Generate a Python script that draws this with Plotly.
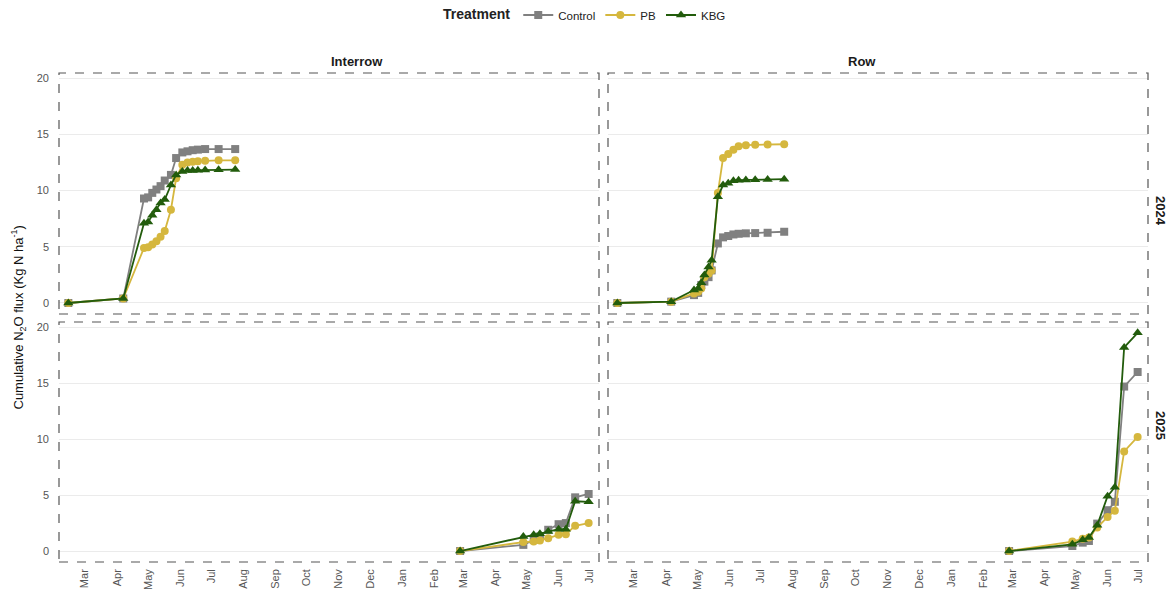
import plotly.graph_objects as go
from plotly.subplots import make_subplots

# ---------------- data ----------------
treatments = ["Control", "PB", "KBG"]

dates_2024_interrow = ["2024-02-14", "2024-04-07", "2024-04-27", "2024-05-01", "2024-05-05", "2024-05-09",
                       "2024-05-13", "2024-05-17", "2024-05-23", "2024-05-28", "2024-06-03", "2024-06-08",
                       "2024-06-13", "2024-06-18", "2024-06-25", "2024-07-08", "2024-07-24"]
interrow_2024_control = [0, 0.4, 9.3, 9.4, 9.8, 10.1, 10.4, 10.9, 11.4, 12.9, 13.4, 13.5, 13.6, 13.65, 13.7, 13.7, 13.7]
interrow_2024_pb = [0, 0.4, 4.9, 4.95, 5.2, 5.5, 5.9, 6.4, 8.3, 11.1, 12.3, 12.5, 12.56, 12.62, 12.65, 12.7, 12.7]
interrow_2024_kbg = [0, 0.4, 7.1, 7.2, 7.8, 8.3, 8.9, 9.2, 10.5, 11.4, 11.7, 11.8, 11.8, 11.82, 11.83, 11.85, 11.87]

dates_2024_row = ["2024-02-14", "2024-04-06", "2024-04-28", "2024-05-02", "2024-05-05", "2024-05-08",
                  "2024-05-12", "2024-05-15", "2024-05-21", "2024-05-26", "2024-05-31", "2024-06-05",
                  "2024-06-10", "2024-06-17", "2024-06-26", "2024-07-08", "2024-07-24"]
row_2024_control = [0, 0.12, 0.7, 0.9, 1.6, 1.9, 2.3, 2.9, 5.3, 5.84, 5.96, 6.1, 6.16, 6.2, 6.22, 6.25, 6.34]
row_2024_pb = [0, 0.12, 0.85, 1.0, 1.3, 2.3, 2.6, 2.9, 9.8, 12.9, 13.25, 13.65, 13.95, 14.05, 14.08, 14.1, 14.13]
row_2024_kbg = [0, 0.12, 1.15, 1.3, 1.8, 2.5, 3.2, 3.8, 9.45, 10.5, 10.65, 10.87, 10.93, 10.94, 10.96, 10.98, 11.02]

dates_2025 = ["2025-02-26", "2025-04-28", "2025-05-08", "2025-05-14", "2025-05-22", "2025-06-01",
              "2025-06-08", "2025-06-17", "2025-06-30"]
interrow_2025_control = [0, 0.55, 1.0, 1.3, 1.9, 2.4, 2.5, 4.8, 5.1]
interrow_2025_pb = [0, 0.8, 0.85, 0.95, 1.15, 1.45, 1.5, 2.25, 2.5]
interrow_2025_kbg = [0, 1.3, 1.45, 1.55, 1.75, 1.95, 1.95, 4.45, 4.4]
row_2025_control = [0, 0.45, 0.75, 0.9, 2.45, 3.65, 4.4, 14.7, 16.0]
row_2025_pb = [0, 0.85, 1.1, 1.2, 2.1, 3.05, 3.6, 8.9, 10.2]
row_2025_kbg = [0, 0.6, 1.0, 1.2, 2.3, 4.9, 5.7, 18.2, 19.5]

col_labels = ["Interrow", "Row"]
row_labels = ["2024", "2025"]
y_ticks = [0, 5, 10, 15, 20]

# ---------------- styles ----------------
colors = {"Control": "#808080", "PB": "#D5B73E", "KBG": "#225C0C"}
symbols = {"Control": "square", "PB": "circle", "KBG": "triangle-up"}

panels = [
    (1, 1, dates_2024_interrow, {"Control": interrow_2024_control, "PB": interrow_2024_pb, "KBG": interrow_2024_kbg}),
    (1, 2, dates_2024_row, {"Control": row_2024_control, "PB": row_2024_pb, "KBG": row_2024_kbg}),
    (2, 1, dates_2025, {"Control": interrow_2025_control, "PB": interrow_2025_pb, "KBG": interrow_2025_kbg}),
    (2, 2, dates_2025, {"Control": row_2025_control, "PB": row_2025_pb, "KBG": row_2025_kbg}),
]

fig = make_subplots(rows=2, cols=2)

for (r, c, dts, series) in panels:
    for t in treatments:
        fig.add_trace(go.Scatter(
            x=dts, y=series[t], mode="lines+markers", name=t,
            legendgroup=t, showlegend=(r == 1 and c == 1),
            line=dict(color=colors[t], width=1.8),
            marker=dict(color=colors[t], symbol=symbols[t], size=8 if t != "KBG" else 9),
        ), row=r, col=c)

W, H = 1172, 596
ml, mr, mt, mb = 59, 24, 73, 34
pw = W - ml - mr
ph = H - mt - mb
xl = [0, 540 / pw]
xr = [549 / pw, 1]
yt = [(562 - 314) / ph, 1]
yb = [0, (562 - 322) / ph]

xrange = ["2024-02-05", "2025-07-10"]
yrange = [-0.98, 20.47]

axis_font = dict(family="Liberation Sans, Arial, sans-serif", size=11, color="#555555")

domains = {1: (xl, yt), 2: (xr, yt), 3: (xl, yb), 4: (xr, yb)}
for i in range(1, 5):
    xd, yd = domains[i]
    xa = "xaxis" if i == 1 else f"xaxis{i}"
    ya = "yaxis" if i == 1 else f"yaxis{i}"
    fig.layout[xa].update(
        domain=xd, type="date", range=xrange, showgrid=False, zeroline=False,
        showline=False, tick0="2024-03-01", dtick="M1", tickformat="%b",
        tickangle=-90, showticklabels=(i >= 3), tickfont=axis_font, ticks="",
        automargin=False, ticklabelstandoff=4,
    )
    fig.layout[ya].update(
        domain=yd, range=yrange, tickvals=y_ticks, showgrid=True, gridcolor="#EBEBEB",
        gridwidth=1.3, zeroline=False, showline=False, tickfont=axis_font,
        showticklabels=(i in (1, 3)), ticks="", automargin=False, ticklabelstandoff=9,
    )
    # dashed panel border
    xref = "x domain" if i == 1 else f"x{i} domain"
    yref = "y domain" if i == 1 else f"y{i} domain"
    fig.add_shape(type="rect", xref=xref, yref=yref, x0=0, x1=1, y0=0, y1=1,
                  line=dict(color="#555555", width=1.2, dash="dash"), fillcolor="rgba(0,0,0,0)",
                  layer="above")

# strip labels
strip_font = dict(family="Liberation Sans, Arial, sans-serif", size=13, color="#1a1a1a")
for lab, xd in zip(col_labels, [xl, xr]):
    fig.add_annotation(text=f"<b>{lab}</b>", x=(xd[0] + xd[1]) / 2, y=yt[1], xref="paper", yref="paper",
                       yanchor="bottom", yshift=2, showarrow=False, font=strip_font)
for lab, yd in zip(row_labels, [yt, yb]):
    fig.add_annotation(text=f"<b>{lab}</b>", x=1, y=(yd[0] + yd[1]) / 2, xref="paper", yref="paper",
                       xanchor="left", xshift=3, textangle=90, showarrow=False, font=strip_font)

# y axis title
fig.add_annotation(text="Cumulative N<sub>2</sub>O flux (Kg N ha<sup>-1</sup>)", x=0, y=0.5,
                   xref="paper", yref="paper", xanchor="center", xshift=-41, textangle=-90,
                   showarrow=False,
                   font=dict(family="Liberation Sans, Arial, sans-serif", size=13, color="#111111"))

fig.update_layout(
    width=W, height=H, margin=dict(l=ml, r=mr, t=mt, b=mb, autoexpand=False),
    plot_bgcolor="white", paper_bgcolor="white",
    font=dict(family="Liberation Sans, Arial, sans-serif", size=12, color="#222222"),
    legend=dict(orientation="h", x=0.5, xref="container", xanchor="center",
                y=1 - 15 / H, yref="container", yanchor="middle",
                title=dict(text="<b>Treatment</b>", side="left"),
                font=dict(size=11.5), itemwidth=30, tracegroupgap=0),
)

fig.write_html("out.html", config={"displayModeBar": False},
               post_script="document.body.style.margin='0';document.body.style.overflow='hidden';")
